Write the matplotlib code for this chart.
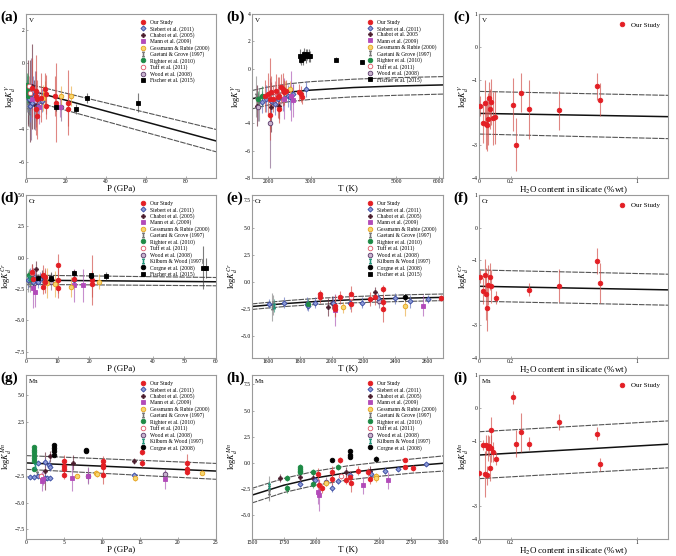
import matplotlib
matplotlib.use("Agg")
import matplotlib.pyplot as plt
from matplotlib.lines import Line2D

plt.rcParams['font.family'] = ['Liberation Serif', 'DejaVu Serif']
plt.rcParams['mathtext.fontset'] = 'stix'

# ---------------- data: (x, logKd, error) ----------------
# (a) V vs P
a_our = [(2.8, -1.5, 1.8), (4.8, -1.7, 2.2), (4.9, -2.0, 1.5), (5.2, -2.8, 1.6), (5.6, -3.2, 1.4),
         (5.6, -2.2, 1.2), (7.7, -2.1, 1.5), (9.7, -1.6, 1.0), (10.2, -1.9, 1.2), (10.2, -2.6, 0.8),
         (14.3, -2.0, 1.2), (15.1, -2.4, 2.4), (20.8, -2.4, 2.0), (20.8, -2.8, 1.0)]
a_siebert = [(0.5, -1.6, 0.8), (0.9, -2.0, 1.0), (1.5, -2.2, 0.9), (2.0, -2.6, 1.0), (2.3, -1.9, 0.7),
             (2.8, -2.4, 0.8), (3.6, -1.7, 0.9), (6.0, -2.6, 0.6), (8.0, -2.3, 0.7)]
a_chabot = [(1.0, -1.8, 2.0), (2.0, -2.3, 2.5), (3.0, -1.4, 2.6), (4.0, -2.5, 1.5)]
a_mann = [(2.8, -2.2, 1.2), (6.5, -2.7, 1.0), (17.2, -2.7, 0.6)]
a_gessmann = [(8.5, -2.1, 0.8), (9.3, -1.9, 0.8), (17.5, -2.0, 0.6), (22.5, -2.0, 0.6)]
a_gaetani = [(0.5, -2.0, 1.0), (1.0, -2.6, 1.1), (1.5, -3.0, 0.9)]
a_righter = [(0.3, -1.3, 0.7), (0.6, -1.7, 0.7), (1.0, -2.0, 0.6), (1.2, -1.5, 0.8)]
a_tuff = [(1.5, -1.4, 0.6), (2.0, -1.8, 0.5)]
a_wood = [(2.5, -2.2, 2.5), (4.5, -2.3, 1.8), (17.5, -2.7, 0.8)]
a_fischer = [(14.8, -2.7, 0.2), (24.9, -2.8, 0.3), (30.7, -2.1, 0.3), (56.0, -2.4, 0.6)]
a_fit_x = [0, 95]
a_fit = [-1.6, -4.74]
a_up = [-1.24, -4.04]
a_lo = [-2.2, -5.4]

# (b) V vs T
b_our = [(1925, -2.0, 1.2), (2000, -1.85, 1.5), (2040, -2.2, 3.0), (2040, -3.4, 1.0), (2075, -1.73, 1.2),
         (2115, -2.2, 1.0), (2190, -1.6, 1.2), (2230, -2.1, 1.5), (2265, -2.0, 1.4), (2265, -2.94, 1.0),
         (2305, -1.37, 1.0), (2345, -1.5, 1.2), (2380, -1.73, 0.9), (2420, -1.6, 0.8), (2725, -1.73, 0.6),
         (2765, -1.85, 0.6), (2800, -2.1, 0.5)]
b_siebert = [(1850, -2.45, 0.8), (1960, -2.2, 1.0), (2075, -2.34, 0.9), (2150, -2.6, 0.8), (2230, -2.2, 0.9),
             (2345, -2.1, 1.0), (2460, -2.0, 0.8), (2500, -2.1, 0.9), (2570, -1.85, 0.7), (2880, -1.5, 0.6)]
b_chabot = [(1730, -2.7, 1.5), (2075, -2.8, 1.8), (2265, -2.7, 1.0)]
b_mann = [(2380, -2.2, 1.5), (2530, -2.0, 1.8), (2570, -2.3, 1.2)]
b_gessmann = [(2400, -1.6, 0.7), (2500, -1.5, 0.6)]
b_gaetani = [(1710, -2.0, 1.5), (1790, -2.6, 1.2)]
b_righter = [(1770, -2.2, 0.6), (1860, -2.0, 0.7)]
b_tuff = [(2150, -1.7, 0.8), (2300, -1.9, 0.7)]
b_wood = [(1770, -2.8, 1.0), (2040, -4.0, 3.3)]
b_fischer = [(2750, 0.92, 0.5), (2780, 0.67, 0.4), (2815, 0.80, 0.5), (2840, 1.04, 0.5), (2880, 0.92, 0.5),
             (2915, 1.04, 0.4), (2955, 0.96, 0.5), (2980, 0.92, 0.4), (3600, 0.67, 0.15), (4210, 0.48, 0.15)]
b_fit_x = [1620, 2000, 2500, 3000, 4000, 5000, 6100]
b_fit = [-2.20, -1.94, -1.71, -1.57, -1.38, -1.27, -1.19]
b_up = [-1.60, -1.34, -1.10, -0.95, -0.77, -0.66, -0.58]
b_lo = [-2.94, -2.66, -2.41, -2.25, -2.06, -1.95, -1.86]

# (c) V vs H2O
c_our = [(0.004, -1.80, 0.3), (0.025, -2.33, 0.6), (0.036, -1.70, 0.7), (0.042, -2.36, 0.75), (0.05, -2.38, 0.8),
         (0.057, -2.20, 0.8), (0.063, -1.56, 0.5), (0.067, -1.90, 0.6), (0.078, -1.68, 0.7), (0.088, -2.18, 0.8),
         (0.103, -2.15, 0.8), (0.215, -1.76, 0.8), (0.236, -2.98, 0.8), (0.267, -1.40, 0.6), (0.316, -1.90, 0.9),
         (0.51, -1.94, 0.6), (0.747, -1.21, 0.4), (0.768, -1.61, 0.5)]
c_fit_x = [0, 1.2]
c_fit = [-2.03, -2.13]
c_up = [-1.36, -1.48]
c_lo = [-2.66, -2.80]

# (d) Cr vs P
d_our = [(1.8, -1.13, 0.6), (2.3, -1.66, 0.8), (5.3, -1.4, 0.8), (5.3, -2.3, 0.6), (5.9, -1.5, 0.7),
         (5.9, -1.9, 0.9), (10.2, -0.6, 0.9), (10.2, -1.8, 1.0), (10.2, -2.45, 0.8), (15, -1.66, 0.7),
         (21, -1.8, 2.0), (21, -2.1, 1.0)]
d_siebert = [(0.7, -1.8, 0.6), (1.3, -1.5, 0.7), (2.3, -1.9, 0.6), (2.8, -1.66, 0.6), (3.9, -1.9, 0.5),
             (4.4, -1.66, 0.5), (15, -1.8, 0.4)]
d_chabot = [(2.0, -1.3, 0.8), (3.0, -0.87, 0.6), (5.0, -1.5, 0.5)]
d_mann = [(2.3, -2.45, 1.6), (2.8, -2.7, 1.2), (15, -2.2, 1.3), (17.9, -2.2, 1.3)]
d_gessmann = [(6.5, -2.05, 1.2), (9.2, -2.1, 1.0), (14.1, -2.3, 0.8), (23, -1.9, 0.6)]
d_gaetani = [(0.6, -1.9, 0.8), (1.2, -2.1, 0.6)]
d_righter = [(0.8, -1.4, 0.5), (1.5, -1.7, 0.5)]
d_tuff = [(2.0, -1.2, 0.5)]
d_wood = [(2.5, -2.0, 0.8), (7.8, -1.9, 0.7)]
d_kilburn = [(1.0, -1.6, 0.5)]
d_corgne = [(7.8, -1.66, 0.3), (20.4, -1.45, 0.2)]
d_fischer = [(3.9, -1.6, 0.3), (7.8, -1.58, 0.4), (15, -1.26, 0.3), (20.4, -1.4, 0.2), (25.2, -1.45, 0.3),
             (56.0, -0.8, 1.7), (57.0, -0.8, 0.8)]
d_fit_x = [0, 60]
d_fit = [-1.79, -1.92]
d_up = [-1.39, -1.58]
d_lo = [-2.13, -2.24]

# (e) Cr vs T
e_our = [(1927, -1.42, 0.5), (1927, -1.1, 0.4), (2021, -2.17, 1.0), (2021, -2.47, 0.8), (2052, -1.42, 0.6),
         (2125, -1.1, 0.7), (2125, -2.0, 0.8), (2240, -1.57, 0.6), (2271, -1.42, 0.7), (2323, -0.66, 0.4),
         (2323, -2.47, 1.2), (2323, -1.87, 0.8), (2687, -1.5, 0.3)]
e_siebert = [(1604, -2.0, 0.4), (1704, -1.93, 0.5), (1844, -2.0, 0.6), (1854, -2.17, 0.5), (1896, -1.93, 0.5),
             (2010, -1.93, 0.6), (2115, -1.93, 0.6), (2192, -1.93, 0.5), (2292, -1.5, 0.5), (2396, -1.5, 0.5),
             (2490, -1.8, 0.6), (2604, -1.57, 0.4)]
e_chabot = [(1979, -2.3, 0.8), (2271, -0.96, 0.5), (2000, -1.9, 0.6)]
e_mann = [(2573, -2.17, 1.0), (2021, -2.6, 1.5)]
e_gessmann = [(2073, -2.32, 0.5), (2460, -2.17, 1.0)]
e_gaetani = [(1625, -2.3, 1.3), (1635, -2.1, 0.9)]
e_righter = [(1850, -2.0, 0.4)]
e_tuff = [(2125, -1.4, 0.5)]
e_wood = [(2300, -1.8, 0.6)]
e_kilburn = [(1640, -2.2, 0.6)]
e_corgne = [(2460, -1.42, 0.3)]
e_fischer = []
e_fit_x = [1500, 1700, 1900, 2100, 2300, 2500, 2700]
e_fit = [-2.26, -2.00, -1.80, -1.66, -1.56, -1.48, -1.42]
e_up = [-2.02, -1.74, -1.52, -1.37, -1.26, -1.17, -1.11]
e_lo = [-2.53, -2.27, -2.08, -1.94, -1.85, -1.78, -1.72]

# (f) Cr vs H2O
f_our = [(0.004, -1.51, 0.2), (0.025, -1.95, 0.4), (0.036, -1.46, 0.5), (0.046, -2.03, 0.8), (0.05, -2.48, 0.7),
         (0.057, -1.76, 0.6), (0.067, -1.50, 0.4), (0.074, -1.80, 0.5), (0.109, -2.15, 0.2), (0.316, -1.91, 0.2),
         (0.51, -1.78, 0.5), (0.747, -1.03, 0.4), (0.768, -1.70, 0.6)]
f_fit_x = [0, 1.2]
f_fit = [-1.80, -1.91]
f_up = [-1.30, -1.43]
f_lo = [-2.26, -2.38]

# (g) Mn vs P
g_our = [(5, -1.14, 0.6), (5, -1.6, 0.5), (5, -1.9, 0.5), (5, -2.4, 0.4), (10.1, -1.14, 0.5), (10.1, -1.45, 0.5),
         (10.1, -1.7, 0.6), (10.1, -2.4, 0.9), (15.2, -0.28, 0.3), (15.2, -1.3, 0.4), (21.2, -1.3, 0.8),
         (21.2, -1.9, 0.4), (21.2, -2.12, 0.3)]
g_siebert = [(0.5, -2.6, 0.2), (1, -2.6, 0.2), (1.6, -2.5, 0.2), (2.1, -2.68, 0.3), (2.5, -2.68, 0.3),
             (2.8, -2.68, 0.2), (3.2, -2.68, 0.2), (1.6, -1.3, 0.2), (2.5, -1.23, 0.4), (3, -1.45, 0.4),
             (3.1, -1.7, 0.4), (14.2, -2.4, 0.2)]
g_chabot = [(2.5, -2.06, 1.8), (3.1, -0.68, 0.5), (6.2, -1.3, 0.7), (14.2, -1.14, 0.3)]
g_mann = [(2.1, -3.0, 0.9), (2.3, -2.8, 0.6), (6.1, -2.68, 1.2), (8.1, -2.5, 0.7), (18.3, -2.83, 0.9)]
g_gessmann = [(6.7, -2.5, 0.2), (9.2, -2.2, 0.2), (9.3, -2.37, 0.2), (14.3, -2.68, 0.3), (23.2, -2.2, 0.2)]
g_gaetani = [(1.5, -2.3, 0.4)]
g_righter = [(1, 0.15, 0.2), (1, -0.06, 0.2), (1, -0.28, 0.2), (1, -0.53, 0.2), (1, -0.83, 0.2),
             (1, -1.14, 0.2), (1, -1.9, 0.2)]
g_tuff = [(2.0, -2.5, 0.3)]
g_wood = [(8.2, -2.5, 0.8), (18.3, -2.3, 0.3)]
g_kilburn = [(1.2, -1.6, 0.3)]
g_corgne = [(3.7, 0.4, 0.1), (3.7, 0.1, 0.1), (3.7, -0.15, 0.1), (3.7, -0.6, 0.1), (7.9, -0.06, 0.1),
            (7.9, -0.2, 0.1)]
g_fit_x = [0, 25]
g_fit = [-1.3, -2.06]
g_up = [-0.62, -1.35]
g_lo = [-1.9, -2.83]

# (h) Mn vs T
h_our = [(2021, -1.06, 0.6), (2026, -2.15, 0.5), (2047, -2.46, 0.4), (2125, -0.9, 0.6), (2125, -1.59, 0.5),
         (2190, 0.28, 0.3), (2242, -1.62, 0.4), (2268, -1.37, 0.6), (2276, -1.9, 0.9), (2333, -0.75, 0.4),
         (2414, -0.9, 0.4), (2427, -1.53, 0.5), (2698, 0.28, 0.2), (2698, -0.43, 0.2), (2763, -0.5, 0.3)]
h_siebert = [(1878, -2.06, 0.3), (1995, -1.68, 0.3), (2125, -2.37, 0.4), (2177, -1.74, 0.3), (2268, -1.21, 0.3),
             (2437, -1.06, 0.3), (2542, -0.75, 0.3), (2646, -0.59, 0.2), (2867, -0.12, 0.2)]
h_chabot = [(1721, -1.43, 0.4), (1878, -1.37, 0.5), (1982, -1.43, 0.6), (2242, -0.9, 0.5), (2424, -0.75, 0.4)]
h_mann = [(2021, -2.77, 1.2), (2026, -3.08, 1.5), (2372, -2.15, 0.8), (2568, -1.68, 0.8)]
h_gessmann = [(2078, -1.96, 0.3), (2477, -1.28, 0.3), (2477, -1.5, 0.3)]
h_gaetani = [(1630, -2.46, 1.2), (1630, -2.77, 0.8)]
h_righter = [(1773, -2.46, 0.4), (1773, -1.43, 0.3), (1878, -0.43, 0.3), (1878, -0.59, 0.3), (1878, -0.75, 0.3),
             (1878, -0.9, 0.3), (1982, -0.9, 0.3), (1982, -2.06, 0.4), (2177, -0.43, 0.3)]
h_tuff = [(2200, -1.3, 0.3)]
h_wood = [(2078, -1.8, 0.4)]
h_kilburn = [(1630, -2.2, 0.5)]
h_corgne = [(2125, 0.31, 0.1), (2268, 1.09, 0.2), (2268, 0.78, 0.2), (2268, 0.59, 0.2), (2477, 0.40, 0.2)]
h_fit_x = [1500, 1750, 2000, 2250, 2500, 2750, 3000]
h_fit = [-3.1, -2.15, -1.45, -0.95, -0.6, -0.3, -0.05]
h_up = [-2.45, -1.5, -0.8, -0.3, 0.05, 0.35, 0.65]
h_lo = [-3.85, -2.85, -2.15, -1.65, -1.3, -1.0, -0.8]

# (i) Mn vs H2O
i_our = [(0.0, -1.98, 0.05), (0.025, -1.13, 0.15), (0.036, -2.03, 0.7), (0.046, -1.14, 0.3), (0.05, -2.06, 0.3),
         (0.057, -1.22, 0.4), (0.063, -1.16, 0.3), (0.067, -1.83, 0.4), (0.074, -1.24, 0.4), (0.078, -0.67, 0.4),
         (0.088, -1.34, 0.3), (0.109, -1.55, 0.2), (0.215, 0.32, 0.2), (0.236, -1.09, 0.4), (0.267, -0.75, 0.6),
         (0.316, -1.09, 0.2), (0.51, -0.43, 0.25), (0.747, -0.79, 0.2), (0.768, -1.72, 0.2)]
i_fit_x = [0, 1.2]
i_fit = [-1.44, -1.11]
i_up = [-0.73, -0.40]
i_lo = [-2.16, -1.83]

# ---------------- styles ----------------
labels = {'our': 'Our Study', 'siebert': 'Siebert et al. (2011)', 'chabot': 'Chabot et al. (2005)',
          'mann': 'Mann et al. (2009)', 'gessmann': 'Gessmann & Rubie (2000)', 'gaetani': 'Gaetani & Grove (1997)',
          'righter': 'Righter et al. (2010)', 'tuff': 'Tuff et al. (2011)', 'wood': 'Wood et al. (2008)',
          'kilburn': 'Kilburn & Wood (1997)', 'corgne': 'Corgne et al. (2008)', 'fischer': 'Fischer et al. (2015)'}
IBAR = r'$\mathrm{I}$'
sty = {
    'our': dict(marker='o', mfc='#e31e24', mec='#e31e24', ms=3.3),
    'siebert': dict(marker='D', mfc='#8c9ad6', mec='#3446a0', ms=2.6),
    'chabot': dict(marker='P', mfc='#4a1c2c', mec='#4a1c2c', ms=2.8),
    'mann': dict(marker='s', mfc='#b24ab9', mec='#b24ab9', ms=2.8),
    'gessmann': dict(marker='o', mfc='#f6d670', mec='#e6a21e', ms=3.3),
    'gaetani': dict(marker=IBAR, mfc='#777777', mec='#777777', ms=3.5),
    'righter': dict(marker='o', mfc='#1d8a45', mec='#1d8a45', ms=3.3),
    'tuff': dict(marker='o', mfc='white', mec='#e05565', ms=3.3),
    'wood': dict(marker='o', mfc='#c9b3cf', mec='#5a3a6a', ms=3.3),
    'kilburn': dict(marker=IBAR, mfc='#22957a', mec='#22957a', ms=3.5),
    'corgne': dict(marker='o', mfc='black', mec='black', ms=3.3),
    'fischer': dict(marker='s', mfc='black', mec='black', ms=3.0),
}
errc = {'our': '#d2544f', 'siebert': '#6a78c0', 'chabot': '#6a3040', 'mann': '#b060b8', 'gessmann': '#eab04a',
        'gaetani': '#8a8a8a', 'righter': '#3a9a5a', 'tuff': '#e07080', 'wood': '#8a6a90', 'kilburn': '#3aa080',
        'corgne': '#333333', 'fischer': '#444444'}

W, H = 676, 556
fig = plt.figure(figsize=(W / 100, H / 100), dpi=100)

col_l = [26, 252, 479]
col_r = [216, 443, 668]
row_t = [14, 195, 375]
row_b = [178, 358, 539]


def make_ax(r, c):
    l, rr, t, b = col_l[c], col_r[c], row_t[r], row_b[r]
    ax = fig.add_axes([l / W, 1 - b / H, (rr - l) / W, (b - t) / H])
    for s in ax.spines.values():
        s.set_color('#9a9a9a')
        s.set_linewidth(0.8)
    ax.tick_params(labelsize=4, length=1.5, width=0.5, pad=1, color='#888888', direction='in')
    return ax


def draw(ax, sets, fx, fy, fu, fl, leg_keys, leg_fs=4, chabot_lbl=None):
    ax.plot(fx, fu, color='#555555', lw=0.8, ls=(0, (5, 1)), zorder=2)
    ax.plot(fx, fl, color='#555555', lw=0.8, ls=(0, (5, 1)), zorder=2)
    ax.plot(fx, fy, color='#111111', lw=1.1, zorder=2)
    for key, pts in sets:
        if not pts:
            continue
        xs = [p[0] for p in pts]
        ys = [p[1] for p in pts]
        es = [p[2] for p in pts]
        ax.errorbar(xs, ys, yerr=es, fmt='none', ecolor=errc[key], elinewidth=0.8, alpha=0.7, zorder=3)
        ax.plot(xs, ys, ls='none', zorder=4, mew=0.6, **sty[key])
    handles = []
    for key in leg_keys:
        lbl = labels[key]
        if key == 'chabot' and chabot_lbl:
            lbl = chabot_lbl
        handles.append(Line2D([], [], ls='none', mew=0.6, label=lbl, **sty[key]))
    ax.legend(handles=handles, loc='upper right', fontsize=leg_fs, frameon=False, handlelength=0.8,
              handletextpad=1.0, labelspacing=0.12, borderpad=0.5, borderaxespad=0.6)


def finish(ax, letter, elem, xlabel, ylabel, xlim, ylim, xt, yt, xtl=None, ytl=None):
    ax.set_xlim(xlim)
    ax.set_ylim(ylim)
    ax.set_xticks(xt)
    if xtl is not None:
        ax.set_xticklabels(xtl)
    ax.set_yticks(yt)
    if ytl is not None:
        ax.set_yticklabels(ytl)
    ax.set_xlabel(xlabel, fontsize=6.5, labelpad=0)
    ax.set_ylabel(ylabel, fontsize=6, labelpad=0.5)
    ax.text(0.015, 0.975, elem, transform=ax.transAxes, fontsize=5, va='top', ha='left')
    pos = ax.get_position()
    fig.text(pos.x0 - 26 / W, pos.y1 - 3 / H, letter, fontsize=11, fontweight='bold', va='center', ha='left')


all_keys = ['our', 'siebert', 'chabot', 'mann', 'gessmann', 'gaetani', 'righter', 'tuff', 'wood']

# (a)
ax = make_ax(0, 0)
draw(ax, [('gaetani', a_gaetani), ('chabot', a_chabot), ('wood', a_wood), ('siebert', a_siebert),
          ('righter', a_righter), ('tuff', a_tuff), ('mann', a_mann), ('gessmann', a_gessmann),
          ('our', a_our), ('fischer', a_fischer)],
     a_fit_x, a_fit, a_up, a_lo, all_keys + ['fischer'])
finish(ax, '(a)', 'V', 'P (GPa)', r'log$K_d^V$', (0, 95), (-7, 3), [0, 20, 40, 60, 80], [2, 0, -4, -6])

# (b)
ax = make_ax(0, 1)
draw(ax, [('gaetani', b_gaetani), ('chabot', b_chabot), ('wood', b_wood), ('siebert', b_siebert),
          ('righter', b_righter), ('tuff', b_tuff), ('mann', b_mann), ('gessmann', b_gessmann),
          ('our', b_our), ('fischer', b_fischer)],
     b_fit_x, b_fit, b_up, b_lo, all_keys + ['fischer'], chabot_lbl='Chabot et al. 2005')
finish(ax, '(b)', 'V', 'T (K)', r'log$K_d^V$', (1620, 6100), (-8, 4), [2000, 3000, 5000, 6000],
       [4, 2, 0, -4, -6, -8])

# (c)
ax = make_ax(0, 2)
draw(ax, [('our', c_our)], c_fit_x, c_fit, c_up, c_lo, ['our'], leg_fs=5)
finish(ax, '(c)', 'V', r'H$_2$O content in silicate (%wt)', r'log$K_d^V$', (0, 1.2), (-4, 1),
       [0, 0.2, 1], [1, 0, -1, -3, -4], xtl=['0', '0.2', '1'])

# (d)
ax = make_ax(1, 0)
draw(ax, [('gaetani', d_gaetani), ('chabot', d_chabot), ('wood', d_wood), ('siebert', d_siebert),
          ('righter', d_righter), ('tuff', d_tuff), ('kilburn', d_kilburn), ('mann', d_mann),
          ('gessmann', d_gessmann), ('our', d_our), ('corgne', d_corgne), ('fischer', d_fischer)],
     d_fit_x, d_fit, d_up, d_lo, all_keys + ['kilburn', 'corgne', 'fischer'])
finish(ax, '(d)', 'Cr', 'P (GPa)', r'log$K_d^{Cr}$', (0, 60), (-8, 5), [0, 10, 20, 40, 50, 60],
       [5, 2.5, 0, -2.5, -5, -7.5])

# (e)
ax = make_ax(1, 1)
draw(ax, [('gaetani', e_gaetani), ('chabot', e_chabot), ('wood', e_wood), ('siebert', e_siebert),
          ('righter', e_righter), ('tuff', e_tuff), ('kilburn', e_kilburn), ('mann', e_mann),
          ('gessmann', e_gessmann), ('our', e_our), ('corgne', e_corgne), ('fischer', e_fischer)],
     e_fit_x, e_fit, e_up, e_lo, all_keys + ['kilburn', 'corgne', 'fischer'])
finish(ax, '(e)', 'Cr', 'T (K)', r'log$K_d^{Cr}$', (1500, 2700), (-7, 8), [1600, 1800, 2000, 2200, 2400, 2600],
       [7.5, 5, 2.5, 0, -2.5, -5])

# (f)
ax = make_ax(1, 2)
draw(ax, [('our', f_our)], f_fit_x, f_fit, f_up, f_lo, ['our'], leg_fs=5)
finish(ax, '(f)', 'Cr', r'H$_2$O content in silicate (%wt)', r'log$K_d^{Cr}$', (0, 1.2), (-4, 1),
       [0, 0.2, 1], [1, 0, -1, -3, -4], xtl=['0', '0.2', '1'])

# (g)
ax = make_ax(2, 0)
draw(ax, [('gaetani', g_gaetani), ('chabot', g_chabot), ('wood', g_wood), ('siebert', g_siebert),
          ('righter', g_righter), ('tuff', g_tuff), ('kilburn', g_kilburn), ('mann', g_mann),
          ('gessmann', g_gessmann), ('our', g_our), ('corgne', g_corgne)],
     g_fit_x, g_fit, g_up, g_lo, all_keys + ['kilburn', 'corgne'])
finish(ax, '(g)', 'Mn', 'P (GPa)', r'log$K_d^{Mn}$', (0, 25), (-8.4, 6.9), [0, 5, 10, 15, 20, 25],
       [5, 2.5, -2.5, -5, -7.5])

# (h)
ax = make_ax(2, 1)
draw(ax, [('gaetani', h_gaetani), ('chabot', h_chabot), ('wood', h_wood), ('siebert', h_siebert),
          ('righter', h_righter), ('tuff', h_tuff), ('kilburn', h_kilburn), ('mann', h_mann),
          ('gessmann', h_gessmann), ('our', h_our), ('corgne', h_corgne)],
     h_fit_x, h_fit, h_up, h_lo, all_keys + ['kilburn', 'corgne'])
finish(ax, '(h)', 'Mn', 'T (K)', r'log$K_d^{Mn}$', (1500, 3000), (-7.3, 8.4), [1500, 1750, 2000, 2500, 2750, 3000],
       [7.5, 5, 2.5, 0, -2.5, -5])

# (i)
ax = make_ax(2, 2)
draw(ax, [('our', i_our)], i_fit_x, i_fit, i_up, i_lo, ['our'], leg_fs=5)
finish(ax, '(i)', 'Mn', r'H$_2$O content in silicate (%wt)', r'log$K_d^{Mn}$', (0, 1.2), (-4, 1),
       [0, 0.2, 1], [1, 0, -1, -3, -4], xtl=['0', '0.2', '1'])

fig.savefig('out.png', dpi=100)
